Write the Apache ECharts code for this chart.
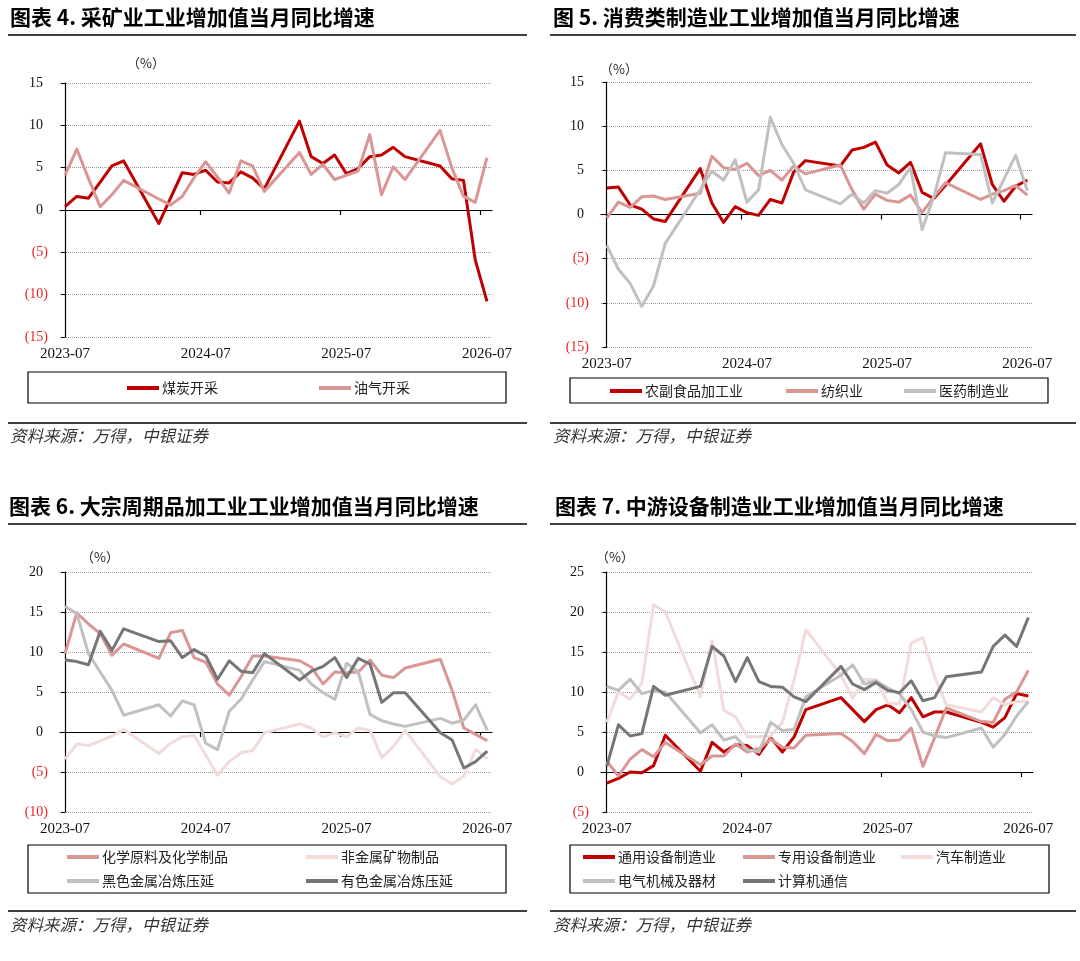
<!DOCTYPE html>
<html><head><meta charset="utf-8">
<script src="https://cdn.jsdelivr.net/npm/echarts@6/dist/echarts.min.js"></script>
<style>html,body{margin:0;padding:0;background:#fff}#c{width:1080px;height:961px}</style>
</head><body><div id="c"></div>
<script>
// ---- tick labels (month index 0 = 2023-07 ... 36 = 2026-07) ----
const tickLabels = ['2023-07', '2024-07', '2025-07', '2026-07'];
const tickIndex = [0, 12, 24, 36];
const tickMarks = [11.5, 23.47, 35.43];

// ---- Panel 4: mining ----
const coal = [0.4,1.6,1.4,3.3,5.2,5.8,null,null,-1.6,1.4,4.4,4.2,4.7,3.3,3.2,4.5,3.8,2.5,null,null,10.5,6.3,5.5,6.5,4.3,4.9,6.3,6.5,7.4,6.3,null,null,5.2,3.7,3.5,-5.9,-10.8];
const oilGas = [4.1,7.2,3.7,0.4,1.8,3.5,null,null,1.3,0.6,1.6,3.8,5.7,3.9,2.0,5.8,5.2,2.2,null,null,6.8,4.2,5.4,3.6,4.1,4.6,8.9,1.8,5.1,3.6,null,null,9.4,5.0,1.6,0.9,6.2];

// ---- Panel 5: consumer manufacturing ----
const food = [3.0,3.1,1.1,0.6,-0.5,-0.8,null,null,5.2,1.3,-0.9,0.9,0.2,-0.1,1.7,1.3,4.8,6.1,null,null,5.5,7.3,7.6,8.2,5.6,4.7,5.9,2.5,1.8,3.3,null,null,8.0,3.4,1.5,3.2,3.9];
const textile = [-0.4,1.4,0.8,2.0,2.1,1.7,null,null,2.4,6.6,5.3,5.1,5.8,4.4,5.0,3.9,5.5,4.6,null,null,5.6,2.8,0.6,2.3,1.6,1.4,2.2,0.2,2.0,3.6,null,null,1.7,2.3,2.7,3.3,2.2];
const pharma = [-3.5,-6.2,-7.8,-10.4,-8.1,-3.3,null,null,2.8,4.9,3.9,6.2,1.4,2.8,11.0,7.9,5.8,2.8,null,null,1.2,2.3,1.3,2.7,2.4,3.4,5.3,-1.7,2.0,7.0,null,null,6.8,1.3,4.0,6.7,2.7];

// ---- Panel 6: bulk cyclical processing ----
const chem = [9.8,14.9,13.5,12.3,9.6,11.0,null,null,9.2,12.4,12.7,9.3,8.7,6.0,4.6,6.9,9.5,9.5,null,null,8.9,8.1,6.0,7.5,7.4,7.5,9.0,7.1,6.8,8.0,null,null,9.1,5.2,0.5,-0.3,-1.1];
const nonMetal = [-3.4,-1.5,-1.7,-1.1,-0.5,0.3,null,null,-2.7,-1.4,-0.6,-0.4,-2.9,-5.4,-3.7,-2.6,-2.3,-0.1,null,null,1.0,0.5,-0.6,-0.1,-0.6,0.5,0.2,-3.2,-1.8,0.2,null,null,-5.6,-6.5,-5.5,-2.2,-3.3];
const ferrous = [15.7,14.8,9.8,7.5,5.2,2.1,null,null,3.4,2.0,3.9,3.4,-1.4,-2.2,2.6,4.1,6.5,8.8,null,null,7.7,6.0,4.9,4.1,8.6,7.5,2.2,1.4,1.0,0.7,null,null,1.7,1.1,1.5,3.4,0.2];
const nonFerrous = [9.0,8.8,8.4,12.6,10.2,12.9,null,null,11.3,11.4,9.3,10.3,9.5,6.6,8.9,7.6,7.4,9.8,null,null,6.5,7.6,8.2,9.3,6.8,9.2,8.5,3.7,4.9,4.9,null,null,-0.1,-1.0,-4.5,-3.7,-2.4];

// ---- Panel 7: midstream equipment ----
const generalEquip = [-1.4,-0.8,0.0,-0.1,0.8,4.6,null,null,0.1,3.7,2.5,3.4,3.3,2.2,4.3,2.5,4.4,7.8,null,null,9.3,7.8,6.3,7.8,8.4,7.4,9.3,6.9,7.5,7.5,null,null,6.2,5.6,6.8,9.8,9.5];
const specialEquip = [1.4,-0.5,1.6,2.8,1.9,3.7,null,null,0.9,2.0,2.0,3.5,2.5,2.9,4.1,3.1,3.0,4.6,null,null,4.8,3.8,2.3,4.7,3.9,4.0,5.5,0.7,4.3,8.0,null,null,6.3,6.2,9.1,10.0,12.7];
const auto = [6.2,10.0,9.1,11.1,20.9,20.0,null,null,9.4,16.4,7.7,6.9,4.4,4.4,4.5,6.2,11.5,17.8,null,null,12.1,9.2,11.6,11.5,8.6,8.5,16.1,16.8,11.9,8.4,null,null,7.5,9.3,8.4,8.8,8.8];
const electrical = [10.7,10.2,11.6,9.8,10.2,10.0,null,null,4.9,5.9,4.0,4.4,2.8,2.5,6.2,5.2,5.3,9.4,null,null,12.1,13.4,11.0,11.4,10.5,9.8,7.8,5.0,4.5,4.3,null,null,5.5,3.1,4.7,7.0,8.8];
const computer = [0.7,5.9,4.5,4.8,10.7,9.6,null,null,10.7,15.7,14.5,11.3,14.3,11.3,10.7,10.6,9.4,8.8,null,null,13.2,11.0,10.3,11.2,10.2,9.9,11.4,8.9,9.3,11.9,null,null,12.5,15.7,17.1,15.7,19.3];

const C_RED = '#c00000', C_PINK = '#d99694', C_LPINK = '#f2dcdb', C_LGRAY = '#c0c0c0', C_DGRAY = '#767676';
const SERIF = 'Liberation Serif', CJK = 'Noto Sans CJK SC';

const grids = [
  {left: 60, top: 83, width: 432, height: 254, xmin: -0.43, xmax: 36.43, ymin: -15, ymax: 15},
  {left: 601, top: 82, width: 431, height: 265, xmin: -0.49, xmax: 36.4, ymin: -15, ymax: 15},
  {left: 60, top: 572, width: 432, height: 240, xmin: -0.43, xmax: 36.4, ymin: -10, ymax: 20},
  {left: 601, top: 572, width: 432, height: 240, xmin: -0.49, xmax: 36.4, ymin: -5, ymax: 25}
];

const xAxes = [], yAxes = [];
grids.forEach((g, i) => {
  xAxes.push({
    type: 'value', gridIndex: i, min: g.xmin, max: g.xmax,
    axisLine: {show: true, onZero: true, lineStyle: {color: '#000', width: 1.2}},
    axisTick: {show: true, customValues: tickMarks, length: 5, lineStyle: {color: '#000', width: 1.2}},
    axisLabel: {show: false}, splitLine: {show: false}
  });
  xAxes.push({
    type: 'value', gridIndex: i, min: g.xmin, max: g.xmax, position: 'bottom',
    axisLine: {show: false, onZero: false}, axisTick: {show: false}, splitLine: {show: false},
    axisLabel: {
      show: true, customValues: tickIndex, margin: 10,
      fontFamily: SERIF, fontSize: 15, color: '#111',
      formatter: v => tickLabels[tickIndex.indexOf(Math.round(v))] || ''
    }
  });
  yAxes.push({
    type: 'value', gridIndex: i, min: g.ymin, max: g.ymax, interval: 5,
    axisLine: {show: true, lineStyle: {color: '#000', width: 1.2}},
    axisTick: {show: true, length: 4, lineStyle: {color: '#000'}},
    splitLine: {show: true, lineStyle: {color: '#9a9a9a', type: 'dotted', width: 1}},
    axisLabel: {
      margin: 12,
      formatter: v => v < 0 ? '{n|(' + (-v) + ')}' : '{p|' + v + '}',
      rich: {
        n: {color: '#ee2222', fontFamily: SERIF, fontSize: 14},
        p: {color: '#111', fontFamily: SERIF, fontSize: 14, padding: [0, 5, 0, 0]}
      }
    }
  });
});

function line(name, arr, color, gi) {
  return {
    type: 'line', name, xAxisIndex: gi * 2, yAxisIndex: gi,
    data: arr.map((v, i) => [i, v]).filter(d => d[1] !== null),
    symbol: 'none', showSymbol: false, color,
    lineStyle: {width: 3, color, join: 'round'}, animation: false
  };
}

const series = [
  line('煤炭开采', coal, C_RED, 0),
  line('油气开采', oilGas, C_PINK, 0),
  line('农副食品加工业', food, C_RED, 1),
  line('纺织业', textile, C_PINK, 1),
  line('医药制造业', pharma, C_LGRAY, 1),
  line('化学原料及化学制品', chem, C_PINK, 2),
  line('非金属矿物制品', nonMetal, C_LPINK, 2),
  line('黑色金属冶炼压延', ferrous, C_LGRAY, 2),
  line('有色金属冶炼压延', nonFerrous, C_DGRAY, 2),
  line('通用设备制造业', generalEquip, C_RED, 3),
  line('专用设备制造业', specialEquip, C_PINK, 3),
  line('汽车制造业', auto, C_LPINK, 3),
  line('电气机械及器材', electrical, C_LGRAY, 3),
  line('计算机通信', computer, C_DGRAY, 3)
];

// legend placement: [name, iconLeft, centerY]
const legendPos = [
  ['煤炭开采', 127, 388], ['油气开采', 319, 388],
  ['农副食品加工业', 610, 391], ['纺织业', 786, 391], ['医药制造业', 904, 391],
  ['化学原料及化学制品', 67, 857], ['非金属矿物制品', 306, 857],
  ['黑色金属冶炼压延', 67, 881], ['有色金属冶炼压延', 306, 881],
  ['通用设备制造业', 583, 857], ['专用设备制造业', 743, 857], ['汽车制造业', 901, 857],
  ['电气机械及器材', 583, 881], ['计算机通信', 743, 881]
];
const legends = legendPos.map(([n, x, y]) => ({
  data: [n], left: x, top: y - 9, padding: 0, icon: 'rect',
  itemWidth: 32, itemHeight: 4, itemGap: 0, selectedMode: false,
  textStyle: {fontFamily: CJK, fontSize: 14, color: '#222', lineHeight: 18, padding: [0, 0, 0, -2]}
}));

const graphic = [];
function txt(x, y, s, style) {
  graphic.push({type: 'text', left: x, top: y, style: Object.assign({text: s, fill: '#000'}, style)});
}
function hline(x1, x2, y, w) {
  graphic.push({type: 'line', shape: {x1, y1: y, x2, y2: y}, style: {stroke: '#000', lineWidth: w}});
}
function box(x, y, w, h) {
  graphic.push({type: 'rect', shape: {x, y, width: w, height: h}, style: {fill: null, stroke: '#000', lineWidth: 1.2}});
}
const titleStyle = {font: 'bold 21px "Noto Sans CJK SC"', fill: '#000'};
txt(10, 7, '图表 4. 采矿业工业增加值当月同比增速', titleStyle);
txt(553, 7, '图 5. 消费类制造业工业增加值当月同比增速', titleStyle);
txt(9, 496, '图表 6. 大宗周期品加工业工业增加值当月同比增速', titleStyle);
txt(555, 496, '图表 7. 中游设备制造业工业增加值当月同比增速', titleStyle);
hline(8, 527, 35, 1.6); hline(550, 1076, 35, 1.6);
hline(8, 527, 524, 1.6); hline(550, 1076, 524, 1.6);
const pctStyle = {font: '13px "Noto Sans CJK SC"', fill: '#222'};
txt(127, 57, '（%）', pctStyle);
txt(600, 63, '（%）', pctStyle);
txt(81, 551, '（%）', pctStyle);
txt(596, 551, '（%）', pctStyle);
box(28, 372, 478, 31); box(570, 378, 478, 25);
box(28, 845, 478, 48); box(570, 845, 479, 48);
hline(8, 527, 423, 1.6); hline(550, 1076, 423, 1.6);
hline(8, 527, 911, 1.6); hline(550, 1076, 911, 1.6);
const srcStyle = {font: 'italic 16.5px "Noto Sans CJK SC"', fill: '#333'};
txt(10, 427, '资料来源：万得，中银证券', srcStyle);
txt(553, 427, '资料来源：万得，中银证券', srcStyle);
txt(10, 916, '资料来源：万得，中银证券', srcStyle);
txt(553, 916, '资料来源：万得，中银证券', srcStyle);

const chart = echarts.init(document.getElementById('c'), null, {renderer: 'canvas'});
chart.setOption({
  animation: false,
  backgroundColor: '#fff',
  grid: grids.map(g => ({left: g.left, top: g.top, width: g.width, height: g.height, containLabel: false})),
  xAxis: xAxes,
  yAxis: yAxes,
  legend: legends,
  series,
  graphic
});
</script>
</body></html>
